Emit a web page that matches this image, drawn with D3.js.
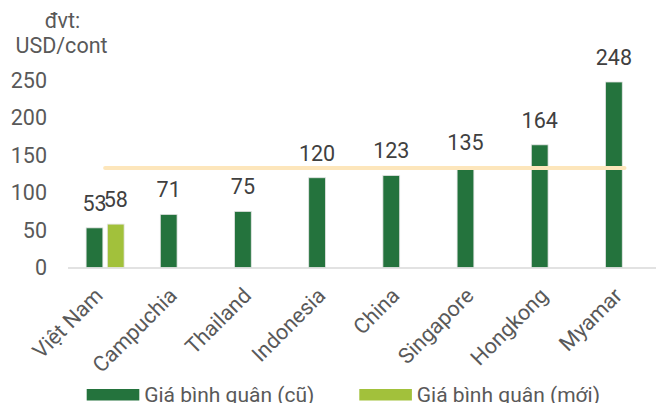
<!DOCTYPE html>
<html><head><meta charset="utf-8">
<script src="https://cdn.jsdelivr.net/npm/d3@7"></script>
<style>body{margin:0;background:#fff}svg{display:block;font-family:Roboto,"Noto Sans",sans-serif}</style>
</head><body><svg id="c" width="662" height="403"></svg>
<script>
const categories = ["Việt Nam","Campuchia","Thailand","Indonesia","China","Singapore","Hongkong","Myamar"];
const oldPrice = [53,71,75,120,123,135,164,248];
const newPrice = [58,null,null,null,null,null,null,null];
const averageLine = [133,133,133,133,133,133,133,133];
const yTicks = [0,50,100,150,200,250];
const seriesNames = ["Giá bình quân (cũ)","Giá bình quân (mới)"];
const colors = ["#24733d","#a2c13b"];

const FS = 21.5;
const svg = d3.select("#c");
const x = d3.scaleBand().domain(categories).range([68, 661.6]);
const sub = d3.scaleBand().domain(["old","new"]).range([-19,19]).paddingInner(0.21);
const y = d3.scaleLinear().domain([0,250]).range([267.5,80.5]);
const cx = c => x(c) + x.bandwidth()/2;

// y tick labels
svg.append("g").selectAll("text").data(yTicks).join("text")
  .attr("x",47).attr("y",d=>y(d)).attr("dy","0.35em")
  .attr("text-anchor","end").attr("font-size",FS).attr("fill","#595959")
  .text(d=>d);

// unit title
svg.append("text").attr("x",62.5).attr("y",28).attr("text-anchor","middle")
  .attr("font-size",FS).attr("fill","#595959").text("đvt:");
svg.append("text").attr("x",61.5).attr("y",53).attr("text-anchor","middle")
  .attr("font-size",FS).attr("fill","#595959").text("USD/cont");

// baseline
svg.append("line").attr("x1",68).attr("x2",656).attr("y1",y(0)+0.5).attr("y2",y(0)+0.5)
  .attr("stroke","#d9d9d9").attr("stroke-width",1.5);

const series = [
  {key:"old", vals:oldPrice, color:colors[0]},
  {key:"new", vals:newPrice, color:colors[1]}
];
series.forEach(s=>{
  const data = categories.map((c,i)=>({c, v:s.vals[i]})).filter(d=>d.v!=null);
  svg.append("g").selectAll("rect").data(data).join("rect")
    .attr("x",d=>cx(d.c)+sub(s.key)).attr("width",sub.bandwidth())
    .attr("y",d=>y(d.v)).attr("height",d=>y(0)-y(d.v))
    .attr("fill",s.color).attr("stroke","#e4e4e4").attr("stroke-width",0.8);
});

// average line
const line = d3.line().x((d,i)=>cx(categories[i])).y(d=>y(d));
svg.append("path").datum(averageLine).attr("d",line)
  .attr("fill","none").attr("stroke","#fde6bb").attr("stroke-width",4).attr("stroke-linecap","round");

// value labels
series.forEach(s=>{
  const data = categories.map((c,i)=>({c, v:s.vals[i]})).filter(d=>d.v!=null);
  svg.append("g").selectAll("text").data(data).join("text")
    .attr("x",d=>cx(d.c)+sub(s.key)+sub.bandwidth()/2).attr("y",d=>y(d.v)-17)
    .attr("text-anchor","middle").attr("font-size",FS).attr("fill","#404040")
    .text(d=>d.v);
});

// x labels
svg.append("g").selectAll("text").data(categories).join("text")
  .attr("transform",d=>`translate(${cx(d)-1},${297}) rotate(-45)`)
  .attr("text-anchor","end").attr("font-size",FS).attr("fill","#595959")
  .text(d=>d);

// legend
const legX = [86.7, 359.3];
seriesNames.forEach((n,i)=>{
  svg.append("rect").attr("x",legX[i]).attr("y",389).attr("width",52.6).attr("height",11.5).attr("fill",colors[i]);
  svg.append("text").attr("x",legX[i]+57.5).attr("y",402).attr("font-size",21).attr("fill","#595959").text(n);
});
</script></body></html>
